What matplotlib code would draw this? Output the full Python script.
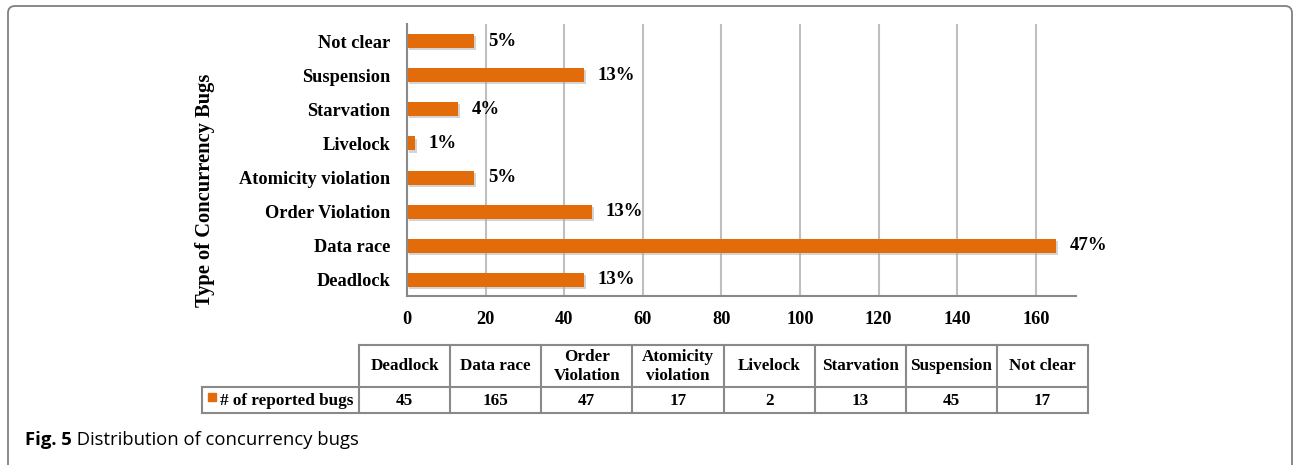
import matplotlib.pyplot as plt
import matplotlib.patheffects as pe
from matplotlib.patches import FancyBboxPatch, Rectangle

# ── DATA ─────────────────────────────────────────────────────
categories = ['Deadlock', 'Data race', 'Order Violation', 'Atomicity violation',
              'Livelock', 'Starvation', 'Suspension', 'Not clear']
table_headers = ['Deadlock', 'Data race', 'Order\nViolation', 'Atomicity\nviolation',
                 'Livelock', 'Starvation', 'Suspension', 'Not clear']
reported = [45, 165, 47, 17, 2, 13, 45, 17]
x_ticks = [0, 20, 40, 60, 80, 100, 120, 140, 160]
series_name = '# of reported bugs'
caption_bold = 'Fig. 5'
caption_text = ' Distribution of concurrency bugs'

orange = '#E36C0A'
grid_c = '#BFBFBF'
axis_c = '#898989'
serif = 'Liberation Serif'

W, H = 1294, 465
fig = plt.figure(figsize=(W / 100, H / 100), dpi=100)

# overlay in pixel coordinates for frame, table, labels
ov = fig.add_axes([0, 0, 1, 1])
ov.set_xlim(0, W)
ov.set_ylim(H, 0)
ov.axis('off')

# ── BAR CHART ────────────────────────────────────────────────
ax_l, ax_r, ax_t, ax_b = 407, 1076, 24, 296
ax = fig.add_axes([ax_l / W, 1 - ax_b / H, (ax_r - ax_l) / W, (ax_b - ax_t) / H])
ax.patch.set_alpha(0)

ypos = list(range(len(categories)))
bars = ax.barh(ypos, reported, height=0.41, color=orange, zorder=3)
for b in bars:
    b.set_path_effects([pe.SimplePatchShadow(offset=(1.5, -1.5), shadow_rgbFace='#aaaaaa', alpha=0.5),
                        pe.Normal()])

total = sum(reported)
for y, v in zip(ypos, reported):
    ax.annotate(f'{round(100 * v / total)}%', (v, y), xytext=(10, 0),
                textcoords='offset points', va='center', ha='left',
                fontsize=13.5, fontweight='bold', family=serif)

ax.set_xlim(0, 170.2)
ax.set_ylim(-0.47, 7.5)
ax.set_xticks(x_ticks)
ax.set_yticks(ypos)
ax.set_yticklabels(categories)
for lab in ax.get_xticklabels() + ax.get_yticklabels():
    lab.set_fontfamily(serif)
    lab.set_fontweight('bold')
    lab.set_fontsize(13.2)
ax.tick_params(axis='y', length=0, pad=12)
ax.tick_params(axis='x', length=0, pad=11)
ax.grid(axis='x', color=grid_c, linewidth=1.5, zorder=0)
ax.set_axisbelow(True)
for s in ['top', 'right']:
    ax.spines[s].set_visible(False)
for s in ['left', 'bottom']:
    ax.spines[s].set_color(axis_c)
    ax.spines[s].set_linewidth(1.5)
    ax.spines[s].set_zorder(4)

ov.text(205, 190, 'Type of Concurrency Bugs', rotation=90, ha='center', va='center',
        fontsize=14.8, fontweight='bold', family=serif)

# ── DATA TABLE ───────────────────────────────────────────────
t_left, t_right = 359, 1088
leg_left = 202
y_top, y_mid, y_bot = 345, 387, 413
col_w = (t_right - t_left) / len(categories)
lkw = dict(color=axis_c, linewidth=1.5, solid_capstyle='projecting')

ov.plot([t_left, t_right], [y_top, y_top], **lkw)
ov.plot([leg_left, t_right], [y_mid, y_mid], **lkw)
ov.plot([leg_left, t_right], [y_bot, y_bot], **lkw)
ov.plot([leg_left, leg_left], [y_mid, y_bot], **lkw)
for i in range(len(categories) + 1):
    x = t_left + i * col_w
    ov.plot([x, x], [y_top, y_bot], **lkw)

tkw = dict(ha='center', va='center', fontsize=12.3, fontweight='bold', family=serif,
           linespacing=1.25)
for i, (hdr, v) in enumerate(zip(table_headers, reported)):
    cx = t_left + (i + 0.5) * col_w
    ov.text(cx, (y_top + y_mid) / 2, hdr, **tkw)
    ov.text(cx, (y_mid + y_bot) / 2 + 1, str(v), **tkw)

ov.add_patch(Rectangle((208, 393), 8, 8, color=orange))
ov.text(220, (y_mid + y_bot) / 2 + 1, series_name, ha='left', va='center',
        fontsize=12.3, fontweight='bold', family=serif)

# ── FRAME & CAPTION ──────────────────────────────────────────
ov.add_patch(FancyBboxPatch((8, 6), 1284, 480, boxstyle='round,pad=0,rounding_size=7',
                            fill=False, edgecolor='#808080', linewidth=1.3, clip_on=False))

t1 = ov.text(25, 440, caption_bold, ha='left', va='center', fontsize=13.3,
             fontweight='bold', family='Open Sans')
ov.annotate(caption_text, xy=(1, 0), xycoords=t1, ha='left', va='bottom',
            fontsize=13.3, family='Open Sans')

fig.savefig('out.png', dpi=100)
